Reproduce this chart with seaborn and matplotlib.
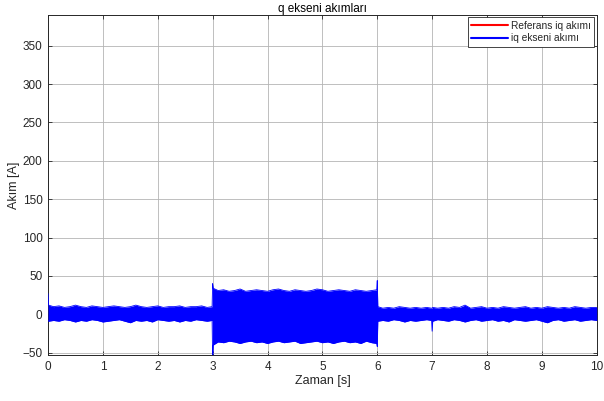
import numpy as np
import pandas as pd
import matplotlib
matplotlib.use("Agg")
import matplotlib.pyplot as plt
import seaborn as sns

# ---- data ----
title = "q ekseni akımları"
xlabel = "Zaman [s]"
ylabel = "Akım [A]"
legend_labels = ["Referans iq akımı", "iq ekseni akımı"]

# reference current (red, lies on zero under the measured band)
ref_t = [0.0, 10.0]
ref_val = [0.0, 0.0]

# envelope (upper / lower) of the measured iq current band
env_t = [0.0, 0.01,
         0.1, 0.2, 0.3, 0.4, 0.5, 0.6, 0.7, 0.8, 0.9, 1.0,
         1.1, 1.2, 1.3, 1.4, 1.5, 1.6, 1.7, 1.8, 1.9, 2.0,
         2.1, 2.2, 2.3, 2.4, 2.5, 2.6, 2.7, 2.8, 2.9, 2.99,
         3.0, 3.01,
         3.1, 3.2, 3.3, 3.4, 3.5, 3.6, 3.7, 3.8, 3.9, 4.0,
         4.1, 4.2, 4.3, 4.4, 4.5, 4.6, 4.7, 4.8, 4.9, 5.0,
         5.1, 5.2, 5.3, 5.4, 5.5, 5.6, 5.7, 5.8, 5.9, 5.99,
         6.0, 6.01,
         6.1, 6.2, 6.3, 6.4, 6.5, 6.6, 6.7, 6.8, 6.9, 6.99,
         7.0, 7.01,
         7.1, 7.2, 7.3, 7.4, 7.5, 7.6, 7.7, 7.8, 7.9, 8.0,
         8.1, 8.2, 8.3, 8.4, 8.5, 8.6, 8.7, 8.8, 8.9, 9.0,
         9.1, 9.2, 9.3, 9.4, 9.5, 9.6, 9.7, 9.8, 9.9, 10.0]

env_upper = [27, 12,
             10, 11, 9, 10, 12, 10, 9, 11, 10, 9,
             10, 11, 10, 9, 10, 12, 10, 9, 10, 11,
             9, 10, 10, 11, 9, 10, 10, 11, 9, 10,
             40, 34,
             31, 32, 30, 31, 33, 30, 31, 32, 31, 30,
             32, 33, 31, 30, 32, 31, 30, 31, 33, 32,
             30, 31, 32, 31, 30, 32, 31, 30, 31, 32,
             44, 10,
             8, 9, 8, 10, 9, 8, 9, 8, 9, 8,
             8, 9,
             8, 9, 8, 10, 9, 12, 8, 9, 10, 8,
             9, 8, 10, 9, 8, 9, 10, 8, 9, 8,
             10, 9, 8, 9, 8, 10, 9, 8, 9, 9]

env_lower = [-8, -9,
             -8, -9, -7, -8, -10, -8, -9, -7, -8, -10,
             -9, -8, -7, -9, -11, -8, -9, -8, -10, -7,
             -8, -9, -8, -10, -8, -9, -7, -8, -9, -8,
             -58, -40,
             -36, -37, -35, -36, -38, -36, -35, -37, -36, -38,
             -36, -35, -37, -36, -35, -38, -37, -36, -35, -37,
             -36, -38, -36, -35, -37, -36, -38, -35, -37, -38,
             -42, -9,
             -8, -9, -7, -8, -10, -8, -9, -8, -7, -8,
             -22, -9,
             -7, -8, -9, -7, -8, -10, -8, -7, -9, -8,
             -7, -9, -8, -10, -7, -8, -9, -8, -7, -9,
             -11, -8, -7, -9, -8, -7, -9, -8, -7, -8]

xticks = [0, 1, 2, 3, 4, 5, 6, 7, 8, 9, 10]
yticks = [-50, 0, 50, 100, 150, 200, 250, 300, 350]
xlim = (0, 10)
ylim = (-53, 390)

# ---- style ----
sns.set_style("ticks")
plt.rcParams['font.family'] = ['Liberation Sans', 'DejaVu Sans']
dark = "#262626"

fig = plt.figure(figsize=(6.04, 4.01), dpi=100)
ax = fig.add_axes([0.0795, 0.1147, 0.9085, 0.848])

ref_df = pd.DataFrame({"t": ref_t, "v": ref_val})
sns.lineplot(data=ref_df, x="t", y="v", ax=ax, color="#ff0000", lw=1.0,
             label=legend_labels[0], zorder=2)

env_df = pd.DataFrame({"t": env_t, "up": env_upper, "lo": env_lower})
ax.fill_between(env_df["t"], env_df["lo"], env_df["up"], color="#0000ff",
                lw=0, zorder=3)
sns.lineplot(data=env_df, x="t", y="up", ax=ax, color="#0000ff", lw=0.6,
             zorder=3, label=legend_labels[1], estimator=None)
sns.lineplot(data=env_df, x="t", y="lo", ax=ax, color="#0000ff", lw=0.6,
             zorder=3, estimator=None)

ax.set_xlim(*xlim)
ax.set_ylim(*ylim)
ax.set_xticks(xticks)
ax.set_yticks(yticks)
ax.grid(True, color="#b4b4b4", lw=0.6)
ax.set_axisbelow(True)
ax.tick_params(direction="in", top=True, right=True, length=3, width=0.6,
               colors=dark, labelsize=8.5, pad=4)
for s in ax.spines.values():
    s.set_color(dark)
    s.set_linewidth(0.7)
    s.set_visible(True)

ax.set_xlabel(xlabel, fontsize=9, color=dark, labelpad=2)
ax.set_ylabel(ylabel, fontsize=9, color=dark, labelpad=2)
ax.set_title(title, fontsize=8.5, color="black", pad=2)

leg = ax.legend(loc="upper right", fontsize=7.3, frameon=True, fancybox=False,
                edgecolor=dark, framealpha=1, handlelength=3.6,
                borderaxespad=0.25, borderpad=0.35, labelspacing=0.2,
                handletextpad=0.3)
leg.get_frame().set_linewidth(0.6)
for h in leg.get_lines():
    h.set_linewidth(1.5)

fig.savefig("out.png", dpi=100)
